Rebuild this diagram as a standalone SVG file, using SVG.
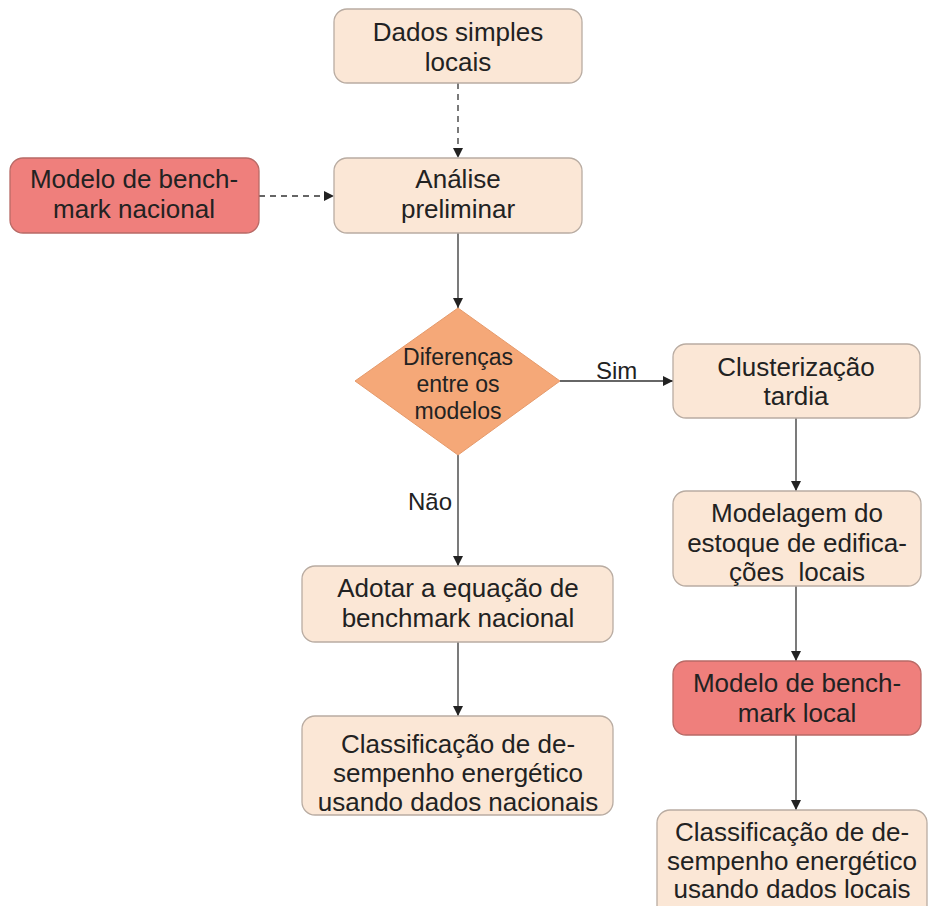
<svg xmlns="http://www.w3.org/2000/svg" width="929" height="906" viewBox="0 0 929 906">
<defs>
<marker id="ah" viewBox="0 0 10 10" refX="10" refY="5" markerWidth="10" markerHeight="10" markerUnits="userSpaceOnUse" orient="auto">
<path d="M0,0 L10,5 L0,10 z" fill="#222"/>
</marker>
<style>
.box{fill:#fbe7d6;stroke:#b9aca2;stroke-width:1.3}
.red{fill:#ef7f7c;stroke:#b86a66;stroke-width:1.3}
.dia{fill:#f5a878;stroke:#e59a6b;stroke-width:1}
.t{font-family:"Liberation Sans",Arial,sans-serif;font-size:26px;fill:#222;text-anchor:middle}
.td{font-family:"Liberation Sans",Arial,sans-serif;font-size:23px;fill:#222;text-anchor:middle}
.lbl{font-family:"Liberation Sans",Arial,sans-serif;font-size:24px;fill:#222}
.c{stroke:#333;stroke-width:1.3;fill:none;marker-end:url(#ah)}
.d{stroke-dasharray:6,5}
</style>
</defs>
<rect width="929" height="906" fill="#ffffff"/>
<g id="connectors">
<line class="c d" x1="458" y1="83" x2="458" y2="158"/>
<line class="c d" x1="259" y1="196" x2="334" y2="196"/>
<line class="c" x1="458" y1="233" x2="458" y2="308"/>
<line class="c" x1="560" y1="381" x2="673" y2="381"/>
<text class="lbl" x="596" y="379">Sim</text>
<line class="c" x1="458" y1="455" x2="458" y2="566"/>
<text class="lbl" x="408" y="510">Não</text>
<line class="c" x1="458" y1="642" x2="458" y2="716"/>
<line class="c" x1="796" y1="418" x2="796" y2="491"/>
<line class="c" x1="796" y1="586" x2="796" y2="661"/>
<line class="c" x1="796" y1="735" x2="796" y2="810"/>
</g>
<g id="n1">
<rect class="box" x="334" y="9" width="248" height="74" rx="13"/>
<text class="t" x="458" y="41">Dados simples</text>
<text class="t" x="458" y="71">locais</text>
</g>
<g id="n2">
<rect class="box" x="334" y="158" width="248" height="75" rx="13"/>
<text class="t" x="458" y="188">Análise</text>
<text class="t" x="458" y="218">preliminar</text>
</g>
<g id="n3">
<rect class="red" x="10" y="158" width="249" height="75" rx="13"/>
<text class="t" x="134" y="188">Modelo de bench-</text>
<text class="t" x="134" y="218">mark nacional</text>
</g>
<g id="n4">
<polygon class="dia" points="458,308 560,381 458,455 355,381"/>
<text class="td" x="458" y="365">Diferenças</text>
<text class="td" x="458" y="392">entre os</text>
<text class="td" x="458" y="419">modelos</text>
</g>
<g id="n5">
<rect class="box" x="673" y="344" width="247" height="74" rx="13"/>
<text class="t" x="796" y="376">Clusterização</text>
<text class="t" x="796" y="405">tardia</text>
</g>
<g id="n6">
<rect class="box" x="673" y="491" width="248" height="95" rx="13"/>
<text class="t" x="797" y="522">Modelagem do</text>
<text class="t" x="797" y="552">estoque de edifica-</text>
<text class="t" x="797" y="581">ções&#160; locais</text>
</g>
<g id="n7">
<rect class="red" x="673" y="661" width="248" height="74" rx="13"/>
<text class="t" x="797" y="692">Modelo de bench-</text>
<text class="t" x="797" y="722">mark local</text>
</g>
<g id="n8">
<rect class="box" x="657" y="810" width="270" height="110" rx="13"/>
<text class="t" x="792" y="841">Classificação de de-</text>
<text class="t" x="792" y="870">sempenho energético</text>
<text class="t" x="792" y="898">usando dados locais</text>
</g>
<g id="n9">
<rect class="box" x="302" y="566" width="311" height="76" rx="13"/>
<text class="t" x="458" y="597">Adotar a equação de</text>
<text class="t" x="458" y="627">benchmark nacional</text>
</g>
<g id="n10">
<rect class="box" x="302" y="716" width="311" height="99" rx="13"/>
<text class="t" x="458" y="753">Classificação de de-</text>
<text class="t" x="458" y="782">sempenho energético</text>
<text class="t" x="458" y="811">usando dados nacionais</text>
</g>
</svg>
